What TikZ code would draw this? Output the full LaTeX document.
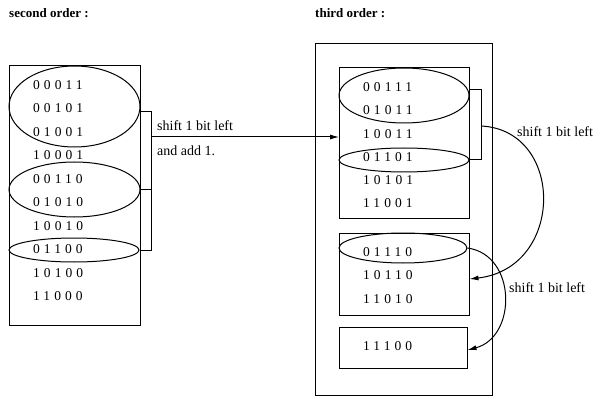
\documentclass[tikz,border=0pt]{standalone}
\usepackage{fontspec}
\setmainfont{Liberation Serif}
\newfontfamily\bitfont[LetterSpace=30]{Liberation Serif}
\usetikzlibrary{shapes.geometric, arrows.meta}
\tikzstyle{box}=[draw, rectangle, inner sep=0pt, line width=1pt]
\tikzstyle{ring}=[draw, ellipse, inner sep=0pt, line width=1pt]
\tikzstyle{bits}=[anchor=west, inner sep=0pt, font=\bitfont\fontsize{13.5}{13.5}\selectfont]
\tikzstyle{lbl}=[anchor=base west, inner sep=0pt, font=\fontsize{14}{14}\selectfont]
\tikzstyle{head}=[anchor=base west, inner sep=0pt, font=\bfseries\fontsize{13}{13}\selectfont]
\tikzstyle{arr}=[-{Latex[length=9pt,width=5pt]}, line width=1pt]
\tikzstyle{wire}=[line width=1pt]

\begin{document}
\begin{tikzpicture}[x=1pt, y=-1pt]
	\useasboundingbox (0,0) rectangle (594,398);
	\node		[head]		(H1) at (9,18)		{second order :};
	\node		[head]		(H2) at (315,18)	{third order :};

	% second order
	\node		[box, minimum width=131pt, minimum height=259pt]	(L)  at (74.5,195.5) {};
	\node		[ring, minimum width=131pt, minimum height=81pt]	(e1) at (74.5,106.5) {};
	\node		[ring, minimum width=131pt, minimum height=55pt]	(e2) at (74.5,189.5) {};
	\node		[ring, minimum width=130pt, minimum height=24pt]	(e3) at (74,250) {};
	\node		[bits]		(l1)  at (33,85)	{00011};
	\node		[bits]		(l2)  at (33,108.5)	{00101};
	\node		[bits]		(l3)  at (33,132)	{01001};
	\node		[bits]		(l4)  at (33,155.5)	{10001};
	\node		[bits]		(l5)  at (33,179)	{00110};
	\node		[bits]		(l6)  at (33,202.5)	{01010};
	\node		[bits]		(l7)  at (33,226)	{10010};
	\node		[bits]		(l8)  at (33,249.5)	{01100};
	\node		[bits]		(l9)  at (33,273)	{10100};
	\node		[bits]		(l10) at (33,296.5)	{11000};

	% third order
	\node		[box, minimum width=177pt, minimum height=351pt]	(R)  at (403.5,219.5) {};
	\node		[box, minimum width=130pt, minimum height=150pt]	(R1) at (404,143) {};
	\node		[box, minimum width=130pt, minimum height=82pt]		(R2) at (404,274) {};
	\node		[box, minimum width=128pt, minimum height=41pt]		(R3) at (403,347.5) {};
	\node		[ring, minimum width=130pt, minimum height=55pt]	(E1) at (404,95.5) {};
	\node		[ring, minimum width=130pt, minimum height=24pt]	(E2) at (404,160) {};
	\node		[ring, minimum width=128pt, minimum height=30pt]	(E3) at (403,248) {};
	\node		[bits]		(r1)  at (363,87)	{00111};
	\node		[bits]		(r2)  at (363,110.3)	{01011};
	\node		[bits]		(r3)  at (363,133.6)	{10011};
	\node		[bits]		(r4)  at (363,156.9)	{01101};
	\node		[bits]		(r5)  at (363,180.2)	{10101};
	\node		[bits]		(r6)  at (363,203.5)	{11001};
	\node		[bits]		(r7)  at (363,252)	{01110};
	\node		[bits]		(r8)  at (363,275.5)	{10110};
	\node		[bits]		(r9)  at (363,299)	{11010};
	\node		[bits]		(r10) at (363,346)	{11100};

	% brackets and shifts
	\coordinate (k1) at (151,112);
	\coordinate (in1) at (339,137);
	\draw[wire] ([yshift=-5.5pt]e1.east) -- (k1) |- (e3.east);
	\draw[wire] (e2.east) -- (e2.east -| k1);
	\draw[arr] (in1 -| k1) -- (in1);
	\node		[lbl]		(t1) at (157,131)	{shift 1 bit left};
	\node		[lbl]		(t2) at (157,156)	{and add 1.};

	\coordinate (k2) at (481,90);
	\coordinate (c1) at (481,126);
	\draw[wire] ([yshift=5.5pt]E1.east) -- (k2) |- (E2.east);
	\draw[arr] (c1) .. controls (565,130) and (565,268) .. ([yshift=-5pt]R2.east);
	\draw[arr] (E3.east) .. controls (517,255) and (517,337) .. ([yshift=-2.5pt]R3.east);
	\node		[lbl]		(t3) at (517,137)	{shift 1 bit left};
	\node		[lbl]		(t4) at (509,292)	{shift 1 bit left};
\end{tikzpicture}
\end{document}
